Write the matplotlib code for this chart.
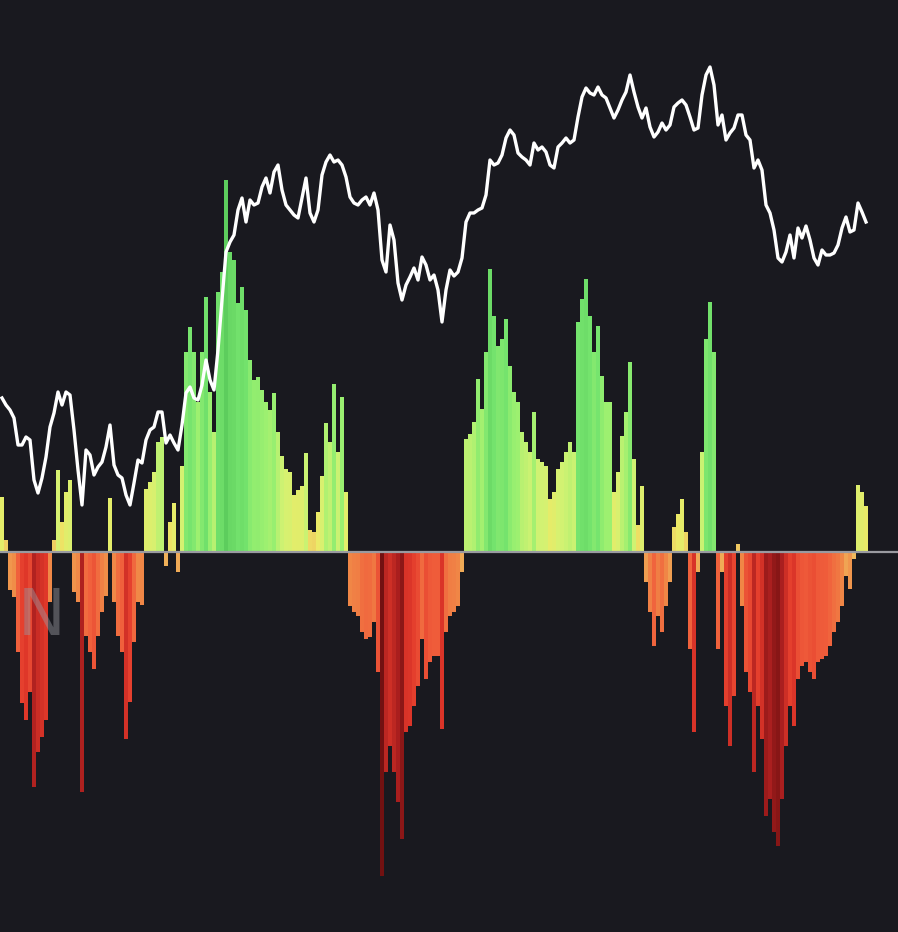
import numpy as np
import matplotlib.pyplot as plt
from matplotlib.colors import LinearSegmentedColormap, TwoSlopeNorm

# oscillator histogram, one value per session
osc = [
    55, 12, -38, -45, -100, -151, -168, -140, -235, -200,
    -185, -168, -50, 12, 82, 30, 60, 72, -40, -50,
    -240, -84, -100, -117, -84, -60, -44, 54, -50, -84,
    -100, -187, -150, -90, -50, -53, 63, 70, 80, 110,
    115, -14, 30, 49, -20, 86, 200, 225, 200, 150,
    200, 255, 160, 120, 260, 280, 372, 300, 292, 249,
    265, 242, 192, 172, 175, 162, 150, 142, 159, 120,
    96, 83, 80, 57, 62, 66, 99, 22, 20, 40,
    76, 129, 110, 168, 100, 155, 60, -54, -60, -64,
    -80, -87, -85, -70, -120, -324, -220, -194, -220, -250,
    -287, -180, -174, -154, -134, -87, -127, -110, -104, -104,
    -177, -80, -64, -60, -54, -20, 113, 118, 130, 173,
    143, 200, 283, 236, 206, 213, 233, 186, 160, 150,
    120, 110, 100, 140, 93, 90, 86, 53, 60, 83,
    90, 100, 110, 100, 230, 253, 273, 236, 200, 226,
    176, 150, 150, 60, 80, 116, 140, 190, 93, 27,
    66, -30, -60, -94, -64, -80, -54, -30, 25, 38,
    53, 20, -97, -180, -20, 100, 213, 250, 200, -97,
    -20, -154, -194, -144, 8, -54, -120, -140, -220, -154,
    -187, -264, -247, -280, -294, -247, -194, -154, -174, -127,
    -114, -110, -120, -127, -110, -107, -104, -94, -80, -70,
    -54, -24, -37, -7, 67, 60, 46,
]

# price line, same sessions (screen height from the bottom)
close_px = [
    398, 405, 410, 418, 445, 445, 437, 440, 480, 493,
    478, 457, 427, 413, 392, 405, 392, 395, 430, 470,
    505, 450, 455, 475, 467, 462, 447, 425, 465, 475,
    478, 495, 505, 483, 460, 463, 440, 430, 427, 412,
    412, 443, 435, 443, 450, 425, 393, 387, 398, 400,
    385, 360, 380, 390, 350, 300, 252, 242, 235, 210,
    198, 222, 200, 205, 203, 187, 178, 193, 172, 165,
    190, 205, 210, 215, 218, 198, 178, 213, 222, 210,
    175, 162, 155, 162, 160, 165, 177, 197, 203, 205,
    200, 197, 205, 193, 210, 260, 272, 225, 240, 283,
    300, 285, 277, 268, 280, 257, 265, 280, 275, 290,
    322, 290, 270, 276, 272, 258, 222, 213, 213, 210,
    208, 195, 160, 165, 163, 155, 138, 130, 135, 153,
    157, 160, 165, 143, 150, 147, 152, 165, 168, 147,
    143, 138, 143, 140, 117, 97, 88, 93, 95, 87,
    95, 98, 108, 118, 110, 100, 92, 75, 92, 107,
    118, 108, 127, 137, 132, 123, 130, 125, 107, 103,
    100, 105, 117, 130, 128, 95, 75, 67, 85, 125,
    115, 140, 133, 128, 115, 115, 135, 140, 168, 160,
    170, 205, 213, 230, 258, 262, 252, 235, 258, 228,
    238, 226, 240, 258, 265, 250, 255, 255, 253, 245,
    228, 217, 232, 230, 203, 212, 222,
]
close = [932 - v for v in close_px]

BG = '#19191f'

cmap = LinearSegmentedColormap.from_list('osc', [
    (0.00, '#6e1010'),
    (0.12, '#a81e1e'),
    (0.25, '#e2382a'),
    (0.35, '#f0603c'),
    (0.43, '#f08c48'),
    (0.50, '#f0c060'),
    (0.55, '#ecea66'),
    (0.62, '#d2f272'),
    (0.70, '#9cf070'),
    (0.80, '#76e46e'),
    (1.00, '#5ccc5c'),
])
norm = TwoSlopeNorm(vmin=-330, vcenter=0, vmax=380)

fig = plt.figure(figsize=(8.98, 9.32), dpi=100, facecolor=BG)
ax = fig.add_axes([0, 0, 1, 1])
ax.set_facecolor(BG)

x = np.arange(len(osc)) * 4 + 2
ax.bar(x, osc, width=4.3, color=cmap(norm(np.array(osc))), linewidth=0)
ax.axhline(0, color='#9a9aa0', linewidth=1.6)
ax.set_xlim(0, 898)
ax.set_ylim(-380, 552)
ax.axis('off')

# faint watermark
ax.text(42, -65, 'N', color='#9a9aa2', alpha=0.45, fontsize=46,
        ha='center', va='center', family='DejaVu Sans')

ax2 = ax.twinx()
ax2.plot(x, close, color='white', linewidth=2.4, solid_joinstyle='round')
ax2.set_ylim(0, 932)
ax2.axis('off')

fig.savefig('out.png', dpi=100, facecolor=BG)
